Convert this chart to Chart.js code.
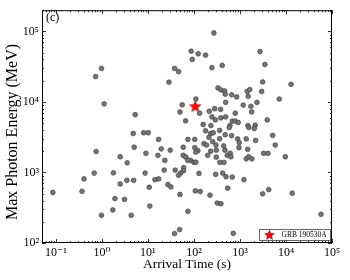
<!DOCTYPE html>
<html><head><meta charset="utf-8">
<style>html,body{margin:0;padding:0;background:#fff}</style>
<script src="https://cdn.jsdelivr.net/npm/chart.js@4/dist/chart.umd.min.js"></script>
</head><body>
<canvas id="c" width="350" height="280"></canvas>
<script>
// Arrival time (s) of each burst's max-energy photon
const arrivalTime = [
 0.98,0.73,1.12,0.75,0.68,1.78,0.41,0.086,0.37,1.73,0.98,1.92,
 38,46.5,28.6,55.7,49.7,5.3,66,
 272,87,92,124,179,2720,246,412,3490,333,386,465,478,660,848,1440,1630,1510,2960,3110,110,
 133,489,1180,1730,2340,215,282,380,246,293,386,489,791,1800,681,791,918,159,234,607,1490,2150,
 12900,7140,3920,
 179,231,263,362,585,1550,2050,104,212,478,660,891,1370,2190,362,165,189,255,301,443,966,
 104,122,110,231,306,199,306,472,530,615,637,950,1470,3270,1370,1550,1820,85,100,110,367,449,
 129,297,421,497,681,1220,541,107,137,223,3110,321,386,715,
 5140,5850,4060,9660,4210,13700,57700,
 4.79,8.07,10.2,17.1,74,5.03,9.06,2.5,3.55,19.5,16.5,30.5,23.4,58.5,58.5,67,74,8.7,22.6,39.2,
 59.7,59.7,51.4,46.4,14.2,17.1,2.5,3.49,4.89,27.2,31.6,10.7,49.7,3.11,11.0,74,4.34,48.9,38
];
// Max photon energy (MeV)
const maxEnergy = [
 29900,22900,9400,1980,980,990,810,520,540,294,247,426,
 29900,26900,19100,9100,7200,6610,5400,
 95000,52400,40100,48200,46000,51900,30600,33000,34000,15800,14800,14300,12900,12600,11800,14100,15000,12000,14100,19200,11000,
 6920,9860,9040,8670,9860,7380,8020,7870,6140,5570,5940,6140,6920,7210,5350,5350,5110,4790,4630,4630,4630,4670,
 17800,11000,5570,
 3900,3570,3660,3950,4340,4340,4200,2940,3140,3430,3320,2990,2990,2850,3010,2560,2450,2730,2450,2380,2650,
 2250,2040,1940,2000,2070,1750,1650,2070,1750,1870,1670,2250,2130,1870,1560,1670,1560,1480,1390,1400,1390,1390,
 970,940,980,870,861,790,598,548,537,476,498,368,360,137,
 3350,2450,1870,1670,573,508,255,
 3570,3660,3660,2940,2940,2280,1870,1670,1370,2160,1750,2070,1480,2280,1750,1650,1480,980,1080,1080,
 1170,1060,980,910,790,810,687,774,774,675,624,618,488,415,334,281,247,155,136
];
const grbName = ['GRB 190530A'];
const grbTime = [107];
const grbEnergy = [8670];

const xTickValues = [0.1,1,10,100,1000,10000,100000];
const xTickLabels = ['10\u207B\u00B9','10\u2070','10\u00B9','10\u00B2','10\u00B3','10\u2074','10\u2075'];
const yTickValues = [100,1000,10000,100000];
const yTickLabels = ['10\u00B2','10\u00B3','10\u2074','10\u2075'];
const xTitle = 'Arrival Time (s)';
const yTitle = 'Max Photon Energy (MeV)';
const panelLabel = '(c)';

const FAM = "'Liberation Serif','DejaVu Serif',serif";

function starPath(ctx, cx, cy, R, r){
  ctx.beginPath();
  for(let i=0;i<10;i++){
    const a = -Math.PI/2 + i*Math.PI/5;
    const rad = i%2===0 ? R : r;
    const px = cx + rad*Math.cos(a), py = cy + rad*Math.sin(a);
    if(i===0) ctx.moveTo(px,py); else ctx.lineTo(px,py);
  }
  ctx.closePath();
}
function drawStar(ctx, cx, cy, R){
  starPath(ctx, cx, cy, R, R*0.42);
  ctx.fillStyle='#ff0000'; ctx.fill();
  ctx.strokeStyle='#8b0000'; ctx.lineWidth=0.6; ctx.stroke();
}
const starImg = document.createElement('canvas');
starImg.width=14; starImg.height=14;
drawStar(starImg.getContext('2d'), 7, 7.4, 6);

const pts = arrivalTime.map((t,i)=>({x:t, y:maxEnergy[i]}));
const grbPts = grbTime.map((t,i)=>({x:t, y:grbEnergy[i]}));

const frameTicks = {
  id:'frameTicks',
  afterDraw(chart){
    const {ctx, chartArea:a, scales:{x,y}} = chart;
    ctx.save();
    ctx.strokeStyle='#000'; ctx.lineWidth=0.8;
    ctx.beginPath();
    for(let d=-2; d<=5; d++){
      for(let m=1; m<=9; m++){
        const v = m*Math.pow(10,d);
        if(v>=x.min && v<=x.max){
          const px = Math.round(x.getPixelForValue(v))+0.5;
          const L = m===1?4:2;
          ctx.moveTo(px,a.bottom); ctx.lineTo(px,a.bottom-L);
          ctx.moveTo(px,a.top); ctx.lineTo(px,a.top+L);
        }
        if(v>=y.min && v<=y.max){
          const py = Math.round(y.getPixelForValue(v))+0.5;
          const L = m===1?4:2;
          ctx.moveTo(a.left,py); ctx.lineTo(a.left+L,py);
          ctx.moveTo(a.right,py); ctx.lineTo(a.right-L,py);
        }
      }
    }
    ctx.stroke();
    ctx.lineWidth=1;
    ctx.strokeRect(a.left+0.5, a.top+0.5, a.right-a.left-1, a.bottom-a.top-1);
    ctx.fillStyle='#000';
    // y-axis title
    ctx.save();
    ctx.translate(12.5, 132);
    ctx.rotate(-Math.PI/2);
    ctx.font = "16px "+FAM;
    ctx.textAlign='center'; ctx.textBaseline='middle';
    ctx.fillText(yTitle, 0, 0);
    ctx.restore();
    // panel label
    ctx.font = "12px "+FAM;
    ctx.textBaseline='middle'; ctx.textAlign='left';
    ctx.fillText(panelLabel, a.left+4, a.top+8);
    // legend box
    const bx=259.5, by=229.5, bw=71, bh=11;
    ctx.fillStyle='#fff'; ctx.fillRect(bx,by,bw,bh);
    ctx.strokeStyle='#444'; ctx.lineWidth=0.8; ctx.strokeRect(bx,by,bw,bh);
    drawStar(ctx, 269.5, 235.3, 5);
    ctx.fillStyle='#000';
    ctx.font = "7.5px "+FAM;
    ctx.textBaseline='middle';
    ctx.fillText(grbName[0], 281.5, 235.3);
    ctx.restore();
  }
};

new Chart(document.getElementById('c'), {
  type:'scatter',
  data:{datasets:[
    {label:'bursts', data:pts, backgroundColor:'#747474', borderColor:'#383838', borderWidth:0.6, pointRadius:2.4},
    {label:grbName[0], data:grbPts, pointStyle:starImg, pointRadius:6}
  ]},
  options:{
    responsive:false, animation:false,
    layout:{padding:{left:0,right:18,top:8,bottom:0}},
    plugins:{legend:{display:false}, tooltip:{enabled:false}},
    scales:{
      x:{type:'logarithmic', min:0.05, max:1e5,
         grid:{display:false, drawTicks:false}, border:{display:false},
         afterBuildTicks:s=>{ s.ticks = xTickValues.map(v=>({value:v})); },
         ticks:{callback:(v,i)=>xTickLabels[i], padding:3, autoSkip:false, maxRotation:0, color:'#000', font:{family:FAM,size:12}},
         title:{display:true, text:xTitle, color:'#000', font:{family:FAM,size:13.5}, padding:{top:0,bottom:7}},
         afterFit:s=>{ s.height=37; }
      },
      y:{type:'logarithmic', min:100, max:2e5,
         grid:{display:false, drawTicks:false}, border:{display:false},
         afterBuildTicks:s=>{ s.ticks = yTickValues.map(v=>({value:v})); },
         ticks:{callback:(v,i)=>yTickLabels[i], padding:3, autoSkip:false, color:'#000', font:{family:FAM,size:12}},
         title:{display:false},
         afterFit:s=>{ s.width=42; }
      }
    }
  },
  plugins:[frameTicks]
});
</script>
</body></html>
